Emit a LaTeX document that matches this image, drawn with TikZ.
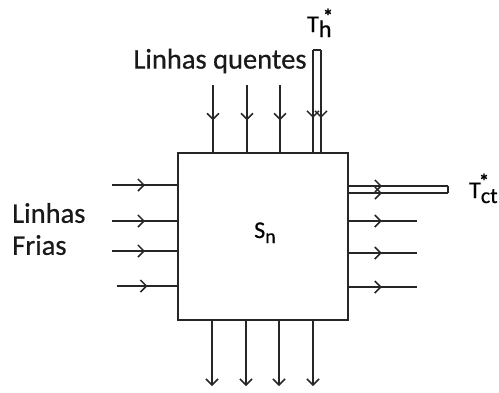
\documentclass[tikz,border=0pt]{standalone}
\usepackage{fontspec}
\setmainfont{Carlito}[FakeBold=0.6]
\usetikzlibrary{arrows.meta,decorations.markings}
\begin{document}
\begin{tikzpicture}[x=1pt,y=-1pt,
  line/.style={line width=1.3pt, draw=black!85},
  midarrow/.style={postaction={decorate}, decoration={markings, mark=at position #1 with {\arrow{Straight Barb[length=6pt,width=12pt,line width=1.5pt]}}}},
  tipped/.style={-{Straight Barb[length=6pt,width=12pt,line width=1.5pt]}},
  lbl/.style={font=\fontsize{28.5}{32}\selectfont, inner sep=0pt, text=black!90},
  sym/.style={font=\fontsize{24}{24}\selectfont, inner sep=0pt},
  star/.style={font=\fontsize{20}{20}\selectfont\bfseries, inner sep=0pt},
]
\useasboundingbox (0,0) rectangle (499,392);
\node[draw=black!85, line width=1.6pt, minimum width=170pt, minimum height=167pt, inner sep=0pt, outer sep=0pt] (box) at (263,236.5) {};

% hot lines (top)
\foreach \x/\n in {213/a,247/b,280/c} {
  \coordinate (t\n) at (\x,85);
  \draw[line, midarrow=0.52] (t\n) -- (t\n |- box.north);
}
\coordinate (hl) at (313,50);
\coordinate (hr) at (321,50);
\draw[line, midarrow=0.66] (hl) -- (hl |- box.north);
\draw[line, midarrow=0.66] (hr) -- (hr |- box.north);
\draw[line] (hl) -- (hr);

% cold lines (left)
\foreach \y/\n/\s in {185/a/112,221/b/112,251/c/112,286/d/117} {
  \coordinate (l\n) at (\s,\y);
  \draw[line, midarrow=0.5] (l\n) -- (l\n -| box.west);
}

% outgoing cold (right)
\coordinate (ru) at (448,186);
\coordinate (rd) at (448,193);
\draw[line, midarrow=0.34] (ru -| box.east) -- (ru);
\draw[line, midarrow=0.34] (rd -| box.east) -- (rd);
\draw[line] (ru) -- (rd);
\foreach \y/\n in {221/a,253/b,287/c} {
  \coordinate (r\n) at (417,\y);
  \draw[line, midarrow=0.49] (r\n -| box.east) -- (r\n);
}

% outgoing hot (bottom)
\foreach \x/\n in {212/a,246/b,279/c,313/d} {
  \coordinate (b\n) at (\x,386);
  \draw[line, tipped] (b\n |- box.south) -- (b\n);
}

% labels
\node[lbl] (lq) at (220,61) {Linhas quentes};
\node[lbl, anchor=west, align=left] (lf) at (12,229) {Linhas\\Frias};
\node[sym, anchor=base west] (sn) at (254,238) {S\raisebox{-5pt}{\fontsize{20}{20}\selectfont n}};
\node[sym, anchor=base west] (th) at (307,32) {T\raisebox{-5pt}{h}};
\node[star, anchor=base] (ths) at (328,23) {*};
\node[sym, anchor=base west] (tc) at (469,198) {T\raisebox{-5pt}{\fontsize{22}{22}\selectfont ct}};
\node[star, anchor=base] (tcs) at (484,188) {*};
\end{tikzpicture}
\end{document}
